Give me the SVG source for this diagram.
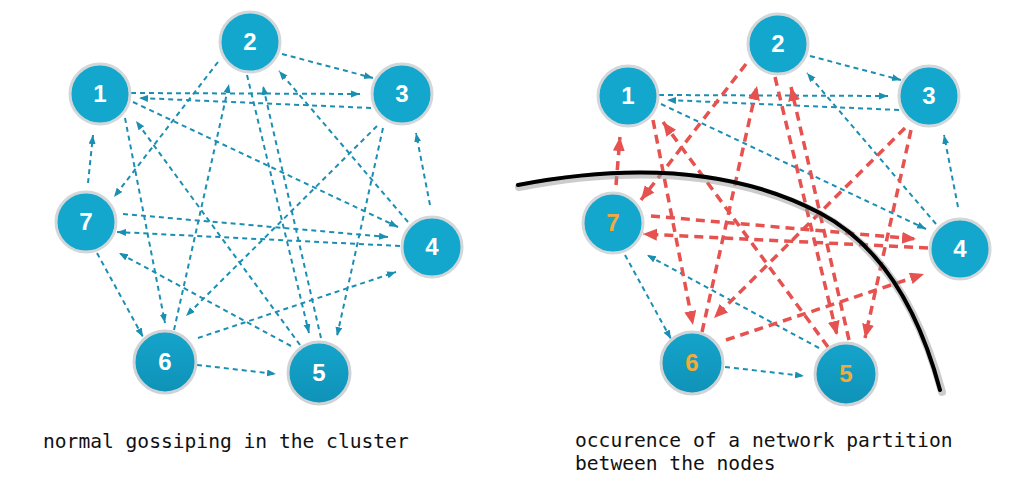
<svg xmlns="http://www.w3.org/2000/svg" width="1024" height="482" viewBox="0 0 1024 482">
<style>
.b{fill:none;stroke:#1b8fb2;stroke-width:2;stroke-dasharray:5 4;marker-end:url(#ab)}
.r{fill:none;stroke:#e6524f;stroke-width:3.5;stroke-dasharray:9 6;marker-end:url(#ar)}
.n{fill:#13a7cd;stroke:#d3d7d9;stroke-width:3}
.nd{fill:url(#gd);stroke:#d0d3d5;stroke-width:3}
.t{font-family:"Liberation Sans",Arial,sans-serif;font-weight:bold;font-size:24px;fill:#fff;text-anchor:middle}
.o{fill:#f2aa3c}
.cap{font-family:"DejaVu Sans Mono","Liberation Mono",monospace;font-size:19.6px;fill:#111}
</style>
<defs>
<marker id="ab" markerUnits="userSpaceOnUse" markerWidth="10" markerHeight="8" refX="9" refY="3.5" orient="auto"><path d="M0,0 L9,3.5 L0,7 z" fill="#1b8fb2"/></marker>
<marker id="ar" markerUnits="userSpaceOnUse" markerWidth="15" markerHeight="13" refX="14" refY="6" orient="auto"><path d="M0,0 L14,6 L0,12 z" fill="#e6524f"/></marker>
<linearGradient id="gd" x1="0" y1="0" x2="0" y2="1"><stop offset="0" stop-color="#15a4cb"/><stop offset="1" stop-color="#0f92b8"/></linearGradient>
</defs>
<rect width="1024" height="482" fill="#fff"/>

<g id="connectors-left">
<line class="b" x1="282" y1="54" x2="373" y2="78"/>
<line class="b" x1="131" y1="93" x2="360" y2="94"/>
<line class="b" x1="371" y1="108" x2="139" y2="98"/>
<line class="b" x1="133" y1="102" x2="398" y2="227"/>
<line class="b" x1="123" y1="214" x2="388" y2="237"/>
<line class="b" x1="400" y1="246" x2="117" y2="232"/>
<line class="b" x1="198" y1="338" x2="396" y2="272"/>
<line class="b" x1="197" y1="365" x2="276" y2="374"/>
<line class="b" x1="97" y1="253" x2="143" y2="337"/>
<line class="b" x1="88" y1="183" x2="93" y2="135"/>
<line class="b" x1="218" y1="62" x2="114" y2="197"/>
<line class="b" x1="125" y1="118" x2="165" y2="323"/>
<line class="b" x1="300" y1="345" x2="136" y2="121"/>
<line class="b" x1="291" y1="346" x2="119" y2="253"/>
<line class="b" x1="174" y1="330" x2="229" y2="84"/>
<line class="b" x1="247" y1="75" x2="309" y2="333"/>
<line class="b" x1="321" y1="338" x2="263" y2="86"/>
<line class="b" x1="383" y1="128" x2="337" y2="336"/>
<line class="b" x1="377" y1="126" x2="186" y2="316"/>
<line class="b" x1="408" y1="222" x2="279" y2="71"/>
<line class="b" x1="430" y1="205" x2="416" y2="133"/>
</g>

<g id="connectors-right" transform="translate(528,2)">
<line class="b" x1="282" y1="54" x2="373" y2="78"/>
<line class="b" x1="131" y1="93" x2="360" y2="94"/>
<line class="b" x1="371" y1="108" x2="139" y2="98"/>
<line class="b" x1="133" y1="102" x2="398" y2="227"/>
<line class="b" x1="197" y1="365" x2="276" y2="374"/>
<line class="b" x1="97" y1="253" x2="143" y2="337"/>
<line class="b" x1="291" y1="346" x2="119" y2="253"/>
<line class="b" x1="408" y1="222" x2="279" y2="71"/>
<line class="b" x1="430" y1="205" x2="416" y2="133"/>
<line class="r" x1="123" y1="214" x2="388" y2="237"/>
<line class="r" x1="400" y1="246" x2="115" y2="232"/>
<line class="r" x1="198" y1="338" x2="396" y2="272"/>
<line class="r" x1="88" y1="183" x2="92" y2="135"/>
<line class="r" x1="218" y1="62" x2="113" y2="198"/>
<line class="r" x1="125" y1="118" x2="165" y2="323"/>
<line class="r" x1="300" y1="345" x2="135" y2="120"/>
<line class="r" x1="174" y1="330" x2="229" y2="84"/>
<line class="r" x1="247" y1="75" x2="309" y2="333"/>
<line class="r" x1="321" y1="338" x2="263" y2="85"/>
<line class="r" x1="383" y1="128" x2="337" y2="336"/>
<line class="r" x1="377" y1="126" x2="186" y2="316"/>
</g>

<g id="partition">
<path d="M519,187 Q700,152 821,215 Q906,260 942,392" fill="none" stroke="#9a9a9a" stroke-opacity="0.5" stroke-width="8" stroke-linecap="round"/>
<path d="M518,185 Q700,150 820,213 Q905,258 940,390" fill="none" stroke="#000" stroke-width="4" stroke-linecap="round"/>
</g>

<g id="node-L1"><circle class="n" cx="100" cy="94" r="30"/><text class="t" x="100" y="102">1</text></g>
<g id="node-L2"><circle class="n" cx="250" cy="42" r="30"/><text class="t" x="250" y="50">2</text></g>
<g id="node-L3"><circle class="n" cx="402" cy="94" r="30"/><text class="t" x="402" y="102">3</text></g>
<g id="node-L4"><circle class="n" cx="432" cy="247" r="30"/><text class="t" x="432" y="255">4</text></g>
<g id="node-L5"><circle class="nd" cx="319" cy="373" r="31"/><text class="t" x="319" y="381">5</text></g>
<g id="node-L6"><circle class="nd" cx="165" cy="362" r="31"/><text class="t" x="165" y="370">6</text></g>
<g id="node-L7"><circle class="n" cx="86" cy="222" r="30"/><text class="t" x="86" y="230">7</text></g>

<g id="node-R1"><circle class="n" cx="628" cy="96" r="30"/><text class="t" x="628" y="104">1</text></g>
<g id="node-R2"><circle class="n" cx="778" cy="44" r="30"/><text class="t" x="778" y="52">2</text></g>
<g id="node-R3"><circle class="n" cx="929" cy="96" r="30"/><text class="t" x="929" y="104">3</text></g>
<g id="node-R4"><circle class="n" cx="960" cy="249" r="30"/><text class="t" x="960" y="257">4</text></g>
<g id="node-R5"><circle class="nd" cx="846" cy="374" r="31"/><text class="t o" x="846" y="382">5</text></g>
<g id="node-R6"><circle class="nd" cx="692" cy="363" r="31"/><text class="t o" x="692" y="371">6</text></g>
<g id="node-R7"><circle class="n" cx="613" cy="223" r="30"/><text class="t o" x="613" y="231">7</text></g>

<text class="cap" x="43" y="448">normal gossiping in the cluster</text>
<text class="cap" x="575" y="447">occurence of a network partition</text>
<text class="cap" x="575" y="470">between the nodes</text>
</svg>
